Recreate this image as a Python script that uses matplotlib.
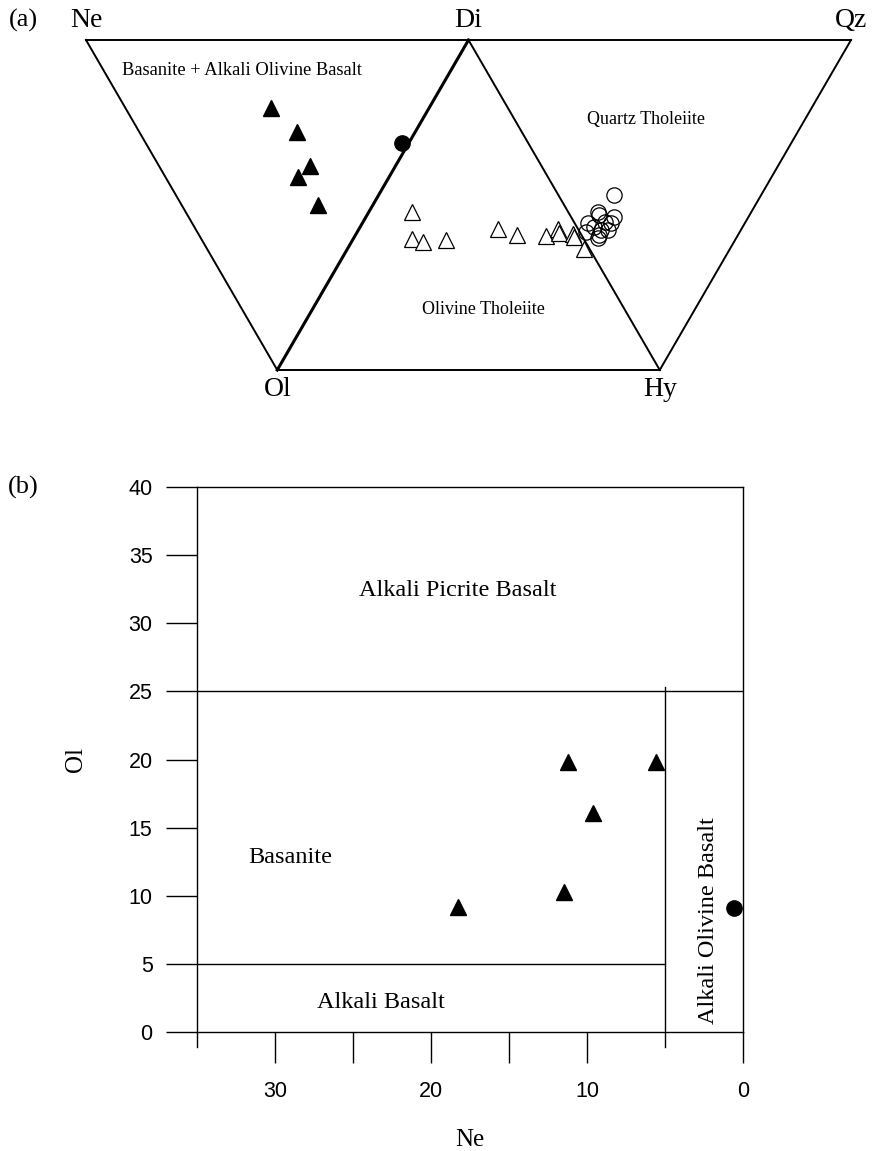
import matplotlib
matplotlib.use("Agg")
import matplotlib.pyplot as plt
from matplotlib.ticker import MultipleLocator, FixedLocator

SERIF = ["Liberation Serif", "DejaVu Serif"]
SANS = ["Liberation Sans", "DejaVu Sans"]

# ---- panel (a): Ne-Di-Qz / Ol-Hy projection, plotting coords (u, v) ----
# Ne=(0,1) Di=(1,1) Qz=(2,1) Ol=(0.5,0) Hy=(1.5,0)
apex_names = ["Ne", "Di", "Qz", "Ol", "Hy"]
apex_u = [0.0, 1.0, 2.0, 0.5, 1.5]
apex_v = [1.0, 1.0, 1.0, 0.0, 0.0]

basanite_u = [0.484, 0.552, 0.586, 0.555, 0.607]
basanite_v = [0.794, 0.721, 0.618, 0.585, 0.500]

aob_u = [0.825]
aob_v = [0.688]

olth_u = [0.851, 0.853, 0.880, 0.940, 1.076, 1.128, 1.202, 1.233, 1.236,
          1.272, 1.275, 1.301]
olth_v = [0.479, 0.397, 0.388, 0.394, 0.427, 0.409, 0.406, 0.427, 0.415,
          0.412, 0.403, 0.367]

qth_u = [1.380, 1.338, 1.340, 1.380, 1.306, 1.327, 1.346, 1.364, 1.338,
         1.372, 1.312, 1.340, 1.356]
qth_v = [0.530, 0.479, 0.470, 0.464, 0.418, 0.433, 0.424, 0.424, 0.400,
         0.445, 0.445, 0.409, 0.448]

# ---- panel (b): Ne vs Ol ----
b_tri_ne = [11.2, 5.6, 9.6, 11.5, 18.3]
b_tri_ol = [19.8, 19.8, 16.1, 10.3, 9.2]
b_circ_ne = [0.6]
b_circ_ol = [9.1]

fig = plt.figure(figsize=(8.72, 11.51), dpi=100)

# ================= (a) =================
ax = fig.add_axes([86 / 872, 1 - 370 / 1151, 765 / 872, 330 / 1151])
ax.set_xlim(0, 2)
ax.set_ylim(0, 1)
ax.axis("off")

lw = 1.4
# outline: Ne-Qz top edge, Ne-Ol, Ol-Hy, Hy-Qz, plus Di-Hy
ax.plot([apex_u[0], apex_u[2]], [apex_v[0], apex_v[2]], color="black", lw=lw, clip_on=False)
ax.plot([apex_u[0], apex_u[3]], [apex_v[0], apex_v[3]], color="black", lw=lw, clip_on=False)
ax.plot([apex_u[3], apex_u[4]], [apex_v[3], apex_v[4]], color="black", lw=lw, clip_on=False)
ax.plot([apex_u[4], apex_u[2]], [apex_v[4], apex_v[2]], color="black", lw=lw, clip_on=False)
ax.plot([apex_u[1], apex_u[4]], [apex_v[1], apex_v[4]], color="black", lw=lw, clip_on=False)
ax.plot([apex_u[1], apex_u[3]], [apex_v[1], apex_v[3]], color="black", lw=2.2, clip_on=False)

ax.plot(basanite_u, basanite_v, "^", color="black", ms=11, clip_on=False)
ax.plot(aob_u, aob_v, "o", color="black", ms=11, clip_on=False)
ax.plot(olth_u, olth_v, "^", mfc="white", mec="black", mew=0.9, ms=11, clip_on=False)
ax.plot(qth_u, qth_v, "o", mfc="none", mec="black", mew=0.9, ms=11, clip_on=False)

for name, u, v in zip(apex_names, apex_u, apex_v):
    dy = 0.06 if v == 1 else -0.06
    ax.text(u, v + dy, name, ha="center", va="center", fontsize=20, family=SERIF)

ax.text(0.408, 0.909, "Basanite + Alkali Olivine Basalt", ha="center", va="center",
        fontsize=13.3, family=SERIF)
ax.text(1.463, 0.758, "Quartz Tholeiite", ha="center", va="center", fontsize=13, family=SERIF)
ax.text(1.039, 0.182, "Olivine Tholeiite", ha="center", va="center", fontsize=13, family=SERIF)

fig.text(23 / 872, 1 - 20 / 1151, "(a)", ha="center", va="center", fontsize=19, family=SERIF)
fig.text(23 / 872, 1 - 487 / 1151, "(b)", ha="center", va="center", fontsize=19, family=SERIF)

# ================= (b) =================
bx = fig.add_axes([197 / 872, 1 - 1032 / 1151, 546 / 872, 545 / 1151])
bx.set_xlim(35, 0)
bx.set_ylim(0, 40)
for s in bx.spines.values():
    s.set_linewidth(1.0)

bx.axhline(25, color="black", lw=1.0)
bx.plot([35, 5], [5, 5], color="black", lw=1.0)
bx.plot([5, 5], [-1.1, 25.3], color="black", lw=1.0, clip_on=False)
bx.plot([35, 35], [-1.1, 0], color="black", lw=1.0, clip_on=False)

bx.plot(b_tri_ne, b_tri_ol, "^", color="black", ms=11, clip_on=False)
bx.plot(b_circ_ne, b_circ_ol, "o", color="black", ms=11, clip_on=False)

bx.yaxis.set_major_locator(MultipleLocator(5))
bx.xaxis.set_major_locator(MultipleLocator(10))
bx.xaxis.set_minor_locator(FixedLocator([15, 25]))
bx.tick_params(axis="both", which="both", direction="out", length=22, width=1.0,
               top=False, right=False)
bx.tick_params(axis="y", pad=10, labelsize=15.5)
bx.tick_params(axis="x", pad=13, labelsize=15.5)
for lab in bx.get_xticklabels() + bx.get_yticklabels():
    lab.set_family(SANS)

bx.set_ylabel("Ol", fontsize=18, family=SERIF, labelpad=30)
bx.set_xlabel("Ne", fontsize=18, family=SERIF, labelpad=20)

bx.text(18.3, 32.4, "Alkali Picrite Basalt", ha="center", va="center", fontsize=17.5, family=SERIF)
bx.text(29.0, 12.8, "Basanite", ha="center", va="center", fontsize=17.5, family=SERIF)
bx.text(23.2, 2.2, "Alkali Basalt", ha="center", va="center", fontsize=17.5, family=SERIF)
bx.text(2.2, 8.2, "Alkali Olivine Basalt", ha="center", va="center", rotation=90,
        fontsize=17.5, family=SERIF)

fig.savefig("out.png", dpi=100)
